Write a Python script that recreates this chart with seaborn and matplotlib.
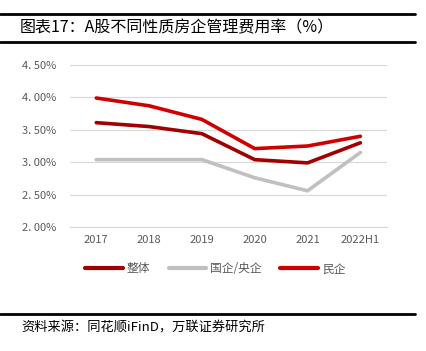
import numpy as np
import pandas as pd
import matplotlib
matplotlib.use("Agg")
import matplotlib.pyplot as plt
import seaborn as sns
from matplotlib.lines import Line2D

# data (%)
years = ["2017", "2018", "2019", "2020", "2021", "2022H1"]
overall = [3.61, 3.55, 3.44, 3.04, 2.99, 3.30]
soe = [3.04, 3.04, 3.04, 2.76, 2.56, 3.15]
private = [3.99, 3.87, 3.66, 3.21, 3.25, 3.40]
series_names = ["整体", "国企/央企", "民企"]
colors = ["#A00000", "#C0C0C0", "#D00000"]

df = pd.DataFrame({
    "year": years * 3,
    "value": overall + soe + private,
    "series": [s for s in series_names for _ in years],
})

sns.set_style("white")
plt.rcParams["font.family"] = ["Noto Sans CJK SC", "DejaVu Sans"]

fig = plt.figure(figsize=(4.26, 3.51), dpi=100)
ax = fig.add_axes([0.164, 0.353, 0.744, 0.462])

sns.lineplot(data=df, x="year", y="value", hue="series", palette=colors,
             linewidth=2.6, sort=False, legend=False, ax=ax)

ax.set_ylim(2.0, 4.5)
ax.set_yticks(np.arange(2.0, 4.51, 0.5))
ax.set_yticklabels([f"{v:.2f}%".replace(".", ". ") for v in np.arange(2.0, 4.51, 0.5)])
ax.set_xlim(-0.5, 5.5)
ax.set_xticks(range(len(years)))
ax.set_xticklabels(years)
ax.set_xticks(np.arange(-0.5, 5.6, 1), minor=True)
ax.tick_params(axis="x", which="major", length=0, pad=6, labelsize=8, labelcolor="#595959")
ax.tick_params(axis="x", which="minor", length=4, color="#D9D9D9", width=0.8)
ax.tick_params(axis="y", length=0, pad=10, labelsize=8, labelcolor="#595959")
ax.yaxis.grid(True, color="#D9D9D9", linewidth=0.9)
ax.set_axisbelow(True)
for side in ["top", "right", "left"]:
    ax.spines[side].set_visible(False)
ax.spines["bottom"].set_color("#D9D9D9")
ax.set_xlabel("")
ax.set_ylabel("")

handles = [Line2D([0], [0], color=c, linewidth=3) for c in colors]
fig.legend(handles, series_names, loc="center", bbox_to_anchor=(0.505, 0.234),
           ncol=3, frameon=False, fontsize=8.5, handlelength=3.2, handletextpad=0.3,
           columnspacing=1.6, labelcolor="#595959")

# title and source with frame lines
fig.add_artist(Line2D([0, 0.974], [0.960, 0.960], color="black", linewidth=2))
fig.add_artist(Line2D([0, 0.974], [0.880, 0.880], color="black", linewidth=2))
fig.text(0.047, 0.920, "图表17：A股不同性质房企管理费用率（%）", fontsize=11.5,
         va="center", ha="left", color="black")
fig.add_artist(Line2D([0, 0.974], [0.105, 0.105], color="black", linewidth=2))
fig.text(0.050, 0.065, "资料来源：同花顺iFinD，万联证券研究所", fontsize=9.5,
         va="center", ha="left", style="italic", color="black")

fig.savefig("out.png", dpi=100)
